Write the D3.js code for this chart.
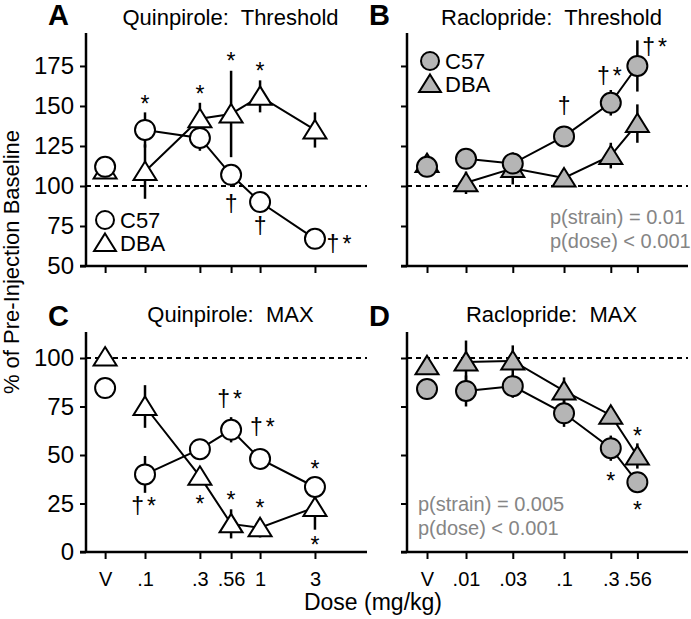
<!DOCTYPE html>
<html>
<head>
<meta charset="utf-8">
<script src="https://cdn.jsdelivr.net/npm/d3@7"></script>
<style>
  body { margin: 0; background: #fff; }
  text { font-family: "Liberation Sans", Arial, sans-serif; }
</style>
</head>
<body>
<svg id="chart"></svg>
<script>
// doses and tick labels
const quinDoses = ['V', 0.1, 0.3, 0.56, 1, 3]
const racDoses = ['V', 0.01, 0.03, 0.1, 0.3, 0.56]
const quinTickLabels = ['V', '.1', '.3', '.56', '1', '3']
const racTickLabels = ['V', '.01', '.03', '.1', '.3', '.56']
// where "V" sits on each log axis
const quinVehicle = 0.045
const racVehicle = 0.004

const threshTicks = [50, 75, 100, 125, 150, 175]
const maxTicks = [0, 25, 50, 75, 100]

// A: quinpirole threshold
const quinThreshC57 = [112, 135, 130, 107, 90, 67]
const quinThreshC57Err = [0, 11, 8, 4, 4, 4]
const quinThreshDBA = [110, 109, 142, 145, 156, 135]
const quinThreshDBAErr = [0, 17, 10, 27, 10, 11]

// B: raclopride threshold
const racThreshC57 = [112, 117, 114, 131, 152, 175]
const racThreshC57Err = [0, 3, 4, 3, 8, 16]
const racThreshDBA = [114, 102, 111, 105, 119, 139]
const racThreshDBAErr = [0, 7, 10, 2, 8, 12]

// C: quinpirole max
const quinMaxC57 = [84.5, 40, 53, 63, 48, 33.5]
const quinMaxC57Err = [0, 9.5, 3, 6.5, 5, 3]
const quinMaxDBA = [100.5, 75, 39, 14.5, 12.5, 23]
const quinMaxDBAErr = [4, 11, 3, 7.5, 5, 11.5]

// D: raclopride max
const racMaxC57 = [84, 83, 85.5, 71.5, 53.5, 36]
const racMaxC57Err = [0, 8, 6, 7, 6.5, 5]
const racMaxDBA = [96, 98, 98.5, 83, 70.5, 49.5]
const racMaxDBAErr = [0, 11, 8, 7, 3, 6.5]

// significance marks: [dose, value, symbol]
const quinThreshMarks = [
  [0.1, 146, '*'], [0.3, 152.5, '*'], [0.56, 173, '*'], [1, 167, '*'],
  [0.56, 84, '†'], [1, 70, '†'], [5, 59, '†*']
]
const racThreshMarks = [
  [0.1, 145, '†'], [0.3, 164, '†*'], [0.87, 182, '†*']
]
const quinMaxMarks = [
  [0.1, 19.6, '†*'], [0.3, 20.6, '*'], [0.56, 22.7, '*'], [0.56, 74.7, '†*'],
  [1.08, 60.3, '†*'], [1, 18.6, '*'], [3, 38.7, '*'], [3, -0.5, '*']
]
const racMaxMarks = [
  [0.56, 55.7, '*'], [0.3, 32.5, '*'], [0.56, 17.5, '*']
]

const racThreshStats = ['p(strain) = 0.01', 'p(dose) < 0.001']
const racMaxStats = ['p(strain) = 0.005', 'p(dose) < 0.001']

const svg = d3.select('#chart')
  .attr('width', 691)
  .attr('height', 619)

const panels = [
  {letter: 'A', title: 'Quinpirole:  Threshold', left: 86, top: 33, h: 233,
    doses: quinDoses, vehicle: quinVehicle, xDomain: [0.0307, 8.5],
    yDomain: [50, 195.6], yTicks: threshTicks, yLabels: true, xLabels: null,
    c57: quinThreshC57, c57Err: quinThreshC57Err, dba: quinThreshDBA, dbaErr: quinThreshDBAErr,
    marks: quinThreshMarks, fill: '#fff', legend: {x: 19, y: 187}, stats: null},
  {letter: 'B', title: 'Raclopride:  Threshold', left: 407, top: 33, h: 233,
    doses: racDoses, vehicle: racVehicle, xDomain: [0.0025, 1.84],
    yDomain: [50, 195.6], yTicks: threshTicks, yLabels: false, xLabels: null,
    c57: racThreshC57, c57Err: racThreshC57Err, dba: racThreshDBA, dbaErr: racThreshDBAErr,
    marks: racThreshMarks, fill: '#b5b5b5', legend: {x: 23, y: 28},
    stats: racThreshStats, statsPos: {x: 143, y: 191}},
  {letter: 'C', title: 'Quinpirole:  MAX', left: 86, top: 332, h: 220,
    doses: quinDoses, vehicle: quinVehicle, xDomain: [0.0307, 8.5],
    yDomain: [0, 113.4], yTicks: maxTicks, yLabels: true, xLabels: quinTickLabels,
    c57: quinMaxC57, c57Err: quinMaxC57Err, dba: quinMaxDBA, dbaErr: quinMaxDBAErr,
    marks: quinMaxMarks, fill: '#fff', legend: null, stats: null},
  {letter: 'D', title: 'Raclopride:  MAX', left: 407, top: 332, h: 220,
    doses: racDoses, vehicle: racVehicle, xDomain: [0.0025, 1.84],
    yDomain: [0, 113.4], yTicks: maxTicks, yLabels: false, xLabels: racTickLabels,
    c57: racMaxC57, c57Err: racMaxC57Err, dba: racMaxDBA, dbaErr: racMaxDBAErr,
    marks: racMaxMarks, fill: '#b5b5b5', legend: null,
    stats: racMaxStats, statsPos: {x: 11, y: 179}}
]

const plotWidth = 281

function triangle(s) {
  return `M0,${-s}L${s * 1.15},${s * 0.85}L${-s * 1.15},${s * 0.85}Z`
}

panels.forEach(p => {
  const g = svg.append('g').attr('transform', `translate(${p.left},${p.top})`)
  const x = d3.scaleLog().domain(p.xDomain).range([0, plotWidth])
  const y = d3.scaleLinear().domain(p.yDomain).range([p.h, 0])
  const xPos = d => x(d === 'V' ? p.vehicle : d)
  const tickVals = p.doses.map(d => d === 'V' ? p.vehicle : d)

  // panel letter and title
  g.append('text')
    .attr('x', -38)
    .attr('y', p.top < 100 ? -8 : -6)
    .attr('font-size', 29)
    .attr('font-weight', 'bold')
    .text(p.letter)
  g.append('text')
    .attr('x', plotWidth / 2 + 4)
    .attr('y', p.top < 100 ? -8 : -10)
    .attr('text-anchor', 'middle')
    .attr('font-size', 22)
    .style('white-space', 'pre')
    .text(p.title)

  // y axis
  const yAxis = g.append('g')
    .call(d3.axisLeft(y).tickValues(p.yTicks).tickSize(6).tickPadding(6)
      .tickFormat(p.yLabels ? d3.format('d') : ''))
  yAxis.select('.domain').remove()
  yAxis.selectAll('line').attr('stroke-width', 2)
  yAxis.selectAll('text').attr('font-size', 24).attr('fill', '#000')

  // x axis
  const xAxis = g.append('g')
    .attr('transform', `translate(0,${p.h})`)
    .call(d3.axisBottom(x).tickValues(tickVals).tickSize(7).tickPadding(13)
      .tickFormat((d, i) => p.xLabels ? p.xLabels[i] : ''))
  xAxis.select('.domain').remove()
  xAxis.selectAll('line').attr('stroke-width', 2)
  xAxis.selectAll('text').attr('font-size', 20).attr('fill', '#000')

  g.append('line')
    .attr('x1', 0).attr('x2', 0).attr('y1', 0).attr('y2', p.h)
    .attr('stroke', '#000').attr('stroke-width', 2.5)
  g.append('line')
    .attr('x1', -6).attr('x2', plotWidth).attr('y1', p.h).attr('y2', p.h)
    .attr('stroke', '#000').attr('stroke-width', 2.5)

  // baseline at 100 %
  g.append('line')
    .attr('x1', 0).attr('x2', plotWidth)
    .attr('y1', y(100)).attr('y2', y(100))
    .attr('stroke', '#000').attr('stroke-width', 1.8)
    .attr('stroke-dasharray', '5,4')

  const series = [
    {name: 'DBA', vals: p.dba, err: p.dbaErr},
    {name: 'C57', vals: p.c57, err: p.c57Err}
  ]

  const line = d3.line()
    .x((d, i) => xPos(p.doses[i + 1]))
    .y(d => y(d))

  series.forEach(s => {
    g.append('path')
      .attr('d', line(s.vals.slice(1)))
      .attr('fill', 'none')
      .attr('stroke', '#000')
      .attr('stroke-width', 2)
  })

  series.forEach(s => {
    g.append('g').selectAll('line')
      .data(s.vals)
      .join('line')
      .attr('x1', (d, i) => xPos(p.doses[i]))
      .attr('x2', (d, i) => xPos(p.doses[i]))
      .attr('y1', (d, i) => y(d - s.err[i]))
      .attr('y2', (d, i) => y(d + s.err[i]))
      .attr('stroke', '#000')
      .attr('stroke-width', 2.5)
  })

  g.append('g').selectAll('path')
    .data(p.dba)
    .join('path')
    .attr('d', triangle(10))
    .attr('transform', (d, i) => `translate(${xPos(p.doses[i])},${y(d)})`)
    .attr('fill', p.fill)
    .attr('stroke', '#000')
    .attr('stroke-width', 2)

  g.append('g').selectAll('circle')
    .data(p.c57)
    .join('circle')
    .attr('cx', (d, i) => xPos(p.doses[i]))
    .attr('cy', d => y(d))
    .attr('r', 10)
    .attr('fill', p.fill)
    .attr('stroke', '#000')
    .attr('stroke-width', 2)

  // significance marks
  g.append('g').selectAll('text')
    .data(p.marks)
    .join('text')
    .attr('x', d => x(d[0]))
    .attr('y', d => y(d[1]))
    .attr('text-anchor', 'middle')
    .attr('font-size', 23)
    .attr('fill', '#000')
    .attr('letter-spacing', d => d[2].length > 1 ? 3 : 0)
    .text(d => d[2])

  if(p.legend) {
    const lg = g.append('g').attr('transform', `translate(${p.legend.x},${p.legend.y})`)
    lg.append('circle').attr('r', 9).attr('fill', p.fill)
      .attr('stroke', '#000').attr('stroke-width', 2)
    lg.append('text').attr('x', 15).attr('y', 8).attr('font-size', 22).text('C57')
    lg.append('path').attr('d', triangle(9.5)).attr('transform', 'translate(0,23)')
      .attr('fill', p.fill).attr('stroke', '#000').attr('stroke-width', 2)
    lg.append('text').attr('x', 15).attr('y', 31).attr('font-size', 22).text('DBA')
  }

  if(p.stats) {
    g.append('g').selectAll('text')
      .data(p.stats)
      .join('text')
      .attr('x', p.statsPos.x)
      .attr('y', (d, i) => p.statsPos.y + i * 24)
      .attr('font-size', 20)
      .attr('fill', '#858585')
      .text(d => d)
  }
})

svg.append('text')
  .attr('transform', 'translate(19,262) rotate(-90)')
  .attr('text-anchor', 'middle')
  .attr('font-size', 22)
  .text('% of Pre-Injection Baseline')

svg.append('text')
  .attr('x', 373)
  .attr('y', 610)
  .attr('text-anchor', 'middle')
  .attr('font-size', 23)
  .text('Dose (mg/kg)')
</script>
</body>
</html>
